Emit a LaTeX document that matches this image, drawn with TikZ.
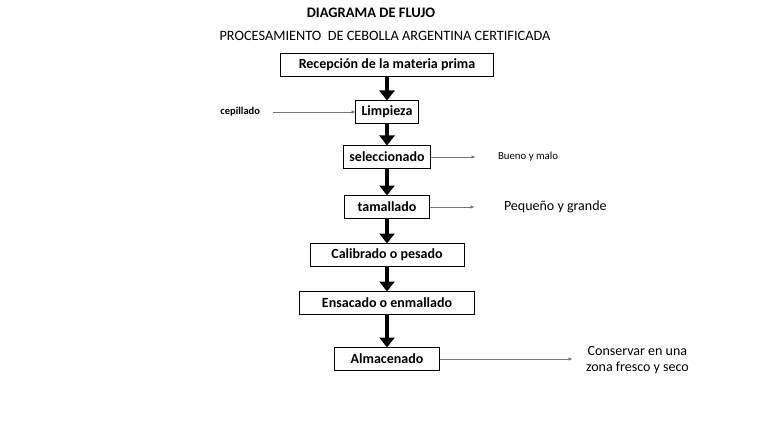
\documentclass[tikz,border=0pt]{standalone}
\usepackage{fontspec}
\setmainfont{Carlito}
\usetikzlibrary{arrows.meta, positioning}

\begin{document}
\begin{tikzpicture}[x=1pt, y=-1pt]
	\tikzset {box/.style={draw, thick, fill=white, minimum height=23pt, inner sep=0pt, outer sep=0pt, font=\bfseries\fontsize{14}{16}\selectfont},
		flow/.style={-{Triangle[width=15pt, length=10pt]}, line width=4.5pt},
		side/.style={-{Latex[length=4pt, width=3.5pt]}, draw=black!55, line width=0.6pt},
		note/.style={font=\fontsize{14}{16}\selectfont, align=center} }
	\useasboundingbox (0,0) rectangle (768,433);
	
	\node[font=\bfseries\fontsize{14.5}{16}\selectfont] (title) at (371,13) {DIAGRAMA DE FLUJO};
	\node[font=\fontsize{14.3}{16}\selectfont] (subtitle) at (385,36) {PROCESAMIENTO\ \ DE CEBOLLA ARGENTINA CERTIFICADA};
	
	\node[box, minimum width=213pt] (rec) at (387,65) {Recepción de la materia prima};
	\node[box, minimum width=63pt, below=24pt of rec] (limp) {Limpieza};
	\node[box, minimum width=87pt, below=22pt of limp] (sel) {seleccionado};
	\node[box, minimum width=85pt, below=27pt of sel] (tam) {tamallado};
	\node[box, minimum width=154pt, below=25pt of tam] (cal) {Calibrado o pesado};
	\node[box, minimum width=175pt, below=25pt of cal] (ens) {Ensacado o enmallado};
	\node[box, minimum width=105pt, below=33pt of ens] (alm) {Almacenado};
	
	\coordinate[left=83pt of limp.west] (cepend);
	\node[font=\bfseries\fontsize{10.5}{12}\selectfont, anchor=east] (cep) at ([xshift=-9pt]cepend) {cepillado};
	\coordinate[right=45pt of sel.east] (selend);
	\node[font=\fontsize{10.8}{12}\selectfont, anchor=west] (bym) at ([xshift=19pt]selend) {Bueno y malo};
	\coordinate[right=45pt of tam.east] (tamend);
	\node[note, anchor=west] (pyg) at ([xshift=26pt]tamend) {Pequeño y grande};
	\coordinate[right=133pt of alm.east] (almend);
	\node[note, anchor=west] (cons) at ([xshift=10pt, yshift=-1pt]almend) {Conservar en una\\zona fresco y seco};
	
	\draw[flow] (rec) -- (limp);
	\draw[flow] (limp) -- (sel);
	\draw[flow] (sel) -- (tam);
	\draw[flow] (tam) -- (cal);
	\draw[flow] (cal) -- (ens);
	\draw[flow] (ens) -- (alm);
	
	\draw[side] (cepend) -- (limp.west);
	\draw[side] (sel.east) -- (selend);
	\draw[side] (tam.east) -- (tamend);
	\draw[side] (alm.east) -- (almend);
\end{tikzpicture}
\end{document}
